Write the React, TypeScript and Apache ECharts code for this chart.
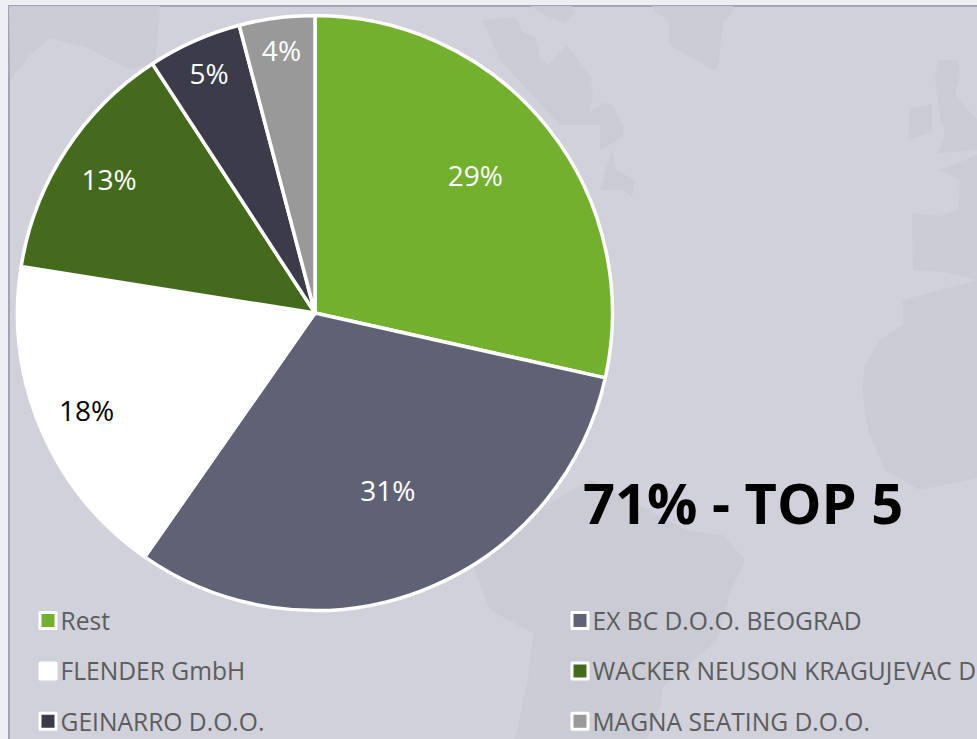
import React, { useEffect, useRef } from "react";
import * as echarts from "echarts";

const categories = ["Rest", "EX BC D.O.O. BEOGRAD", "FLENDER GmbH", "WACKER NEUSON KRAGUJEVAC D.O.O.", "GEINARRO D.O.O.", "MAGNA SEATING D.O.O."];
const shares = [28.5, 31.2, 17.8, 13.3, 5.1, 4.1];
const colors = ["#72b02e", "#5f6274", "#ffffff", "#446b1c", "#3c3b49", "#999999"];
const labelColors = ["#ffffff", "#ffffff", "#000000", "#ffffff", "#ffffff", "#ffffff"];
const leftLegend = ["Rest", "FLENDER GmbH", "GEINARRO D.O.O."];
const rightLegend = ["EX BC D.O.O. BEOGRAD", "WACKER NEUSON KRAGUJEVAC D.O.O.", "MAGNA SEATING D.O.O."];
const headline = "71% - TOP 5";

const labelShift = [[-7, -4], [-5, -23], [-31, 13], [-26, -17], [-19, -44], [-6, -50]];
const land = "#cacbd4";
const mapShapes: number[][][] = [
  [[9, 6], [160, 6], [155, 62], [130, 70], [85, 47], [50, 38], [30, 55], [10, 80]],
  [[652, 6], [733, 6], [733, 12], [723, 22], [718, 68], [713, 70], [670, 45], [668, 20], [655, 12]],
  [[482, 20], [515, 17], [523, 32], [535, 37], [540, 58], [548, 65], [567, 45], [580, 62], [590, 75], [593, 97], [588, 113], [603, 103], [613, 113], [617, 125], [560, 125], [500, 60]],
  [[530, 6], [572, 6], [575, 12], [565, 23], [545, 15]],
  [[938, 60], [958, 60], [960, 75], [955, 95], [977, 120], [977, 150], [938, 153], [945, 135], [940, 118], [935, 78]],
  [[910, 108], [932, 104], [932, 132], [908, 140]],
  [[600, 103], [612, 105], [623, 125], [623, 137], [600, 150]],
  [[612, 150], [616, 170], [635, 180], [632, 197], [622, 190], [600, 190]],
  [[940, 170], [977, 155], [977, 280], [945, 272], [913, 270], [912, 213], [940, 216], [958, 210], [960, 180]],
  [[903, 300], [977, 280], [977, 478], [945, 485], [920, 490], [885, 470], [868, 430], [862, 390], [865, 365], [880, 340], [903, 325]],
  [[473, 567], [520, 520], [590, 480], [687, 530], [723, 535], [745, 560], [730, 593], [717, 640], [663, 687], [660, 707], [647, 739], [515, 739], [528, 680], [533, 633], [490, 610]],
];

export default function App() {
  const ref = useRef<HTMLDivElement>(null);
  useEffect(() => {
    const chart = echarts.init(ref.current!, undefined, { renderer: "svg" });
    const legendBase = {
      orient: "vertical",
      icon: "rect",
      itemWidth: 16,
      itemHeight: 16,
      itemGap: 24.4,
      padding: 0,
      selectedMode: false,
      itemStyle: { borderColor: "#ffffff", borderWidth: 3 },
      textStyle: {
        color: "#5c5c5c",
        fontSize: 24.6,
        fontFamily: "Open Sans",
        lineHeight: 26,
        padding: [0, 0, 0, -0.5],
        width: 386,
        overflow: "truncate",
        ellipsis: "",
      },
    };
    chart.setOption({
      animation: false,
      backgroundColor: "#eeeff2",
      color: colors,
      graphic: [
        { type: "rect", z: 0, shape: { x: 9, y: 6, width: 980, height: 745 }, style: { fill: "#d0d1da", stroke: "#a0a4b5", lineWidth: 2 } },
        ...mapShapes.map((points) => ({ type: "polygon", z: 1, shape: { points }, style: { fill: land } })),
        { type: "text", z: 5, x: 583, y: 474, style: { text: headline, fill: "#000000", font: "bold 56px 'Open Sans'" } },
      ],
      legend: [
        { ...legendBase, left: 38.5, top: 607.5, data: leftLegend },
        { ...legendBase, left: 570.5, top: 607.5, data: rightLegend },
      ],
      series: [
        {
          type: "pie",
          center: [315, 313],
          radius: [0, 297.5],
          startAngle: 90,
          percentPrecision: 0,
          silent: true,
          label: { show: false },
          labelLine: { show: false },
          itemStyle: { borderColor: "#ffffff", borderWidth: 3.5 },
          data: categories.map((name, i) => ({ name, value: shares[i], itemStyle: { color: colors[i] } })),
        },
        {
          type: "pie",
          center: [315, 313],
          radius: [125, 298],
          startAngle: 90,
          percentPrecision: 0,
          silent: true,
          z: 3,
          labelLine: { show: false },
          label: { show: true, position: "inside", formatter: "{d}%", fontSize: 28, fontFamily: "Open Sans" },
          labelLayout: (params: any) => ({ dx: labelShift[params.dataIndex][0], dy: labelShift[params.dataIndex][1] }),
          data: categories.map((name, i) => ({
            name: name + " ",
            value: shares[i],
            itemStyle: { color: "transparent", borderWidth: 0 },
            label: { color: labelColors[i] },
          })),
        },
      ],
    });
    return () => chart.dispose();
  }, []);
  return <div ref={ref} style={{ position: "absolute", left: 0, top: 0, width: 977, height: 739, overflow: "hidden" }} />;
}
